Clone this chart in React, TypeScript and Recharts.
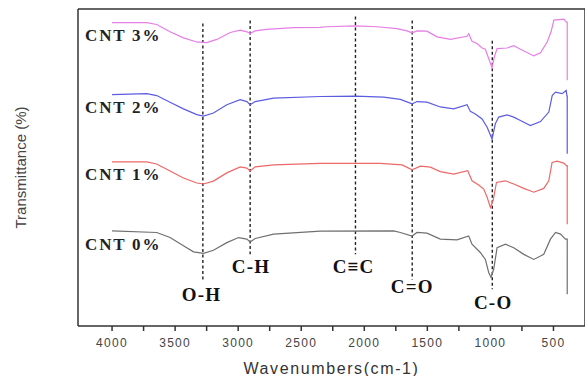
import {
  LineChart,
  Line,
  XAxis,
  YAxis,
  ReferenceLine,
  ReferenceDot,
} from "recharts"

// [wavenumber (cm-1), transmittance with offset]
const cnt3: [number, number][] = [
  [4000, 95.7], [3725, 95.7], [3646, 95.1], [3540, 92.8], [3434, 90.9], [3328, 89.6],
  [3249, 89.4], [3169, 90.4], [3063, 92.6], [2984, 93.3], [2931, 92.8], [2905, 92.3],
  [2865, 93.1], [2772, 93.6], [2561, 94.1], [2349, 94.2], [2300, 94.4], [2071, 94.7],
  [1899, 94.4], [1740, 93.8], [1661, 93.1], [1621, 92.5], [1582, 93.1], [1503, 93.0],
  [1423, 91.2], [1317, 90.4], [1185, 91.4], [1172, 92.2], [1146, 89.8], [1106, 89.1],
  [1066, 87.7], [1040, 87.3], [1013, 84.3], [987, 81.5], [968, 85.0], [947, 87.5],
  [868, 87.7], [815, 88.4], [762, 87.3], [656, 85.2], [603, 86.2], [550, 89.6],
  [519, 92.8], [497, 96.5], [418, 96.8], [399, 95.9], [391, 95.9], [391, 77.5],
]

const cnt2: [number, number][] = [
  [4000, 73.0], [3725, 73.3], [3646, 72.7], [3540, 70.6], [3434, 68.5], [3328, 66.7],
  [3275, 66.2], [3196, 67.2], [3090, 69.8], [2984, 71.4], [2931, 70.8], [2905, 69.8],
  [2865, 70.8], [2719, 71.9], [2349, 72.4], [2071, 72.5], [1846, 72.2], [1714, 71.5],
  [1621, 70.1], [1582, 70.8], [1503, 70.6], [1397, 69.1], [1291, 68.5], [1185, 69.8],
  [1159, 67.7], [1120, 66.9], [1066, 65.3], [1026, 62.7], [987, 59.0], [961, 63.8],
  [934, 65.9], [868, 66.6], [815, 65.9], [762, 64.8], [683, 63.2], [603, 64.5],
  [537, 67.5], [510, 72.7], [484, 73.8], [431, 73.3], [399, 74.3], [393, 72.5],
  [391, 72.5], [391, 54.3],
]

const cnt1: [number, number][] = [
  [4000, 51.8], [3725, 51.8], [3646, 51.1], [3540, 48.9], [3434, 46.7], [3328, 45.1],
  [3275, 44.8], [3196, 45.7], [3090, 48.3], [2984, 50.2], [2931, 49.8], [2905, 48.9],
  [2865, 50.2], [2719, 50.8], [2349, 51.3], [1873, 51.3], [1700, 50.8], [1621, 49.3],
  [1555, 50.4], [1476, 50.1], [1397, 48.7], [1291, 47.9], [1180, 49.0], [1146, 45.8],
  [1093, 44.5], [1053, 43.2], [1026, 40.6], [1000, 37.4], [979, 39.5], [952, 45.3],
  [881, 45.8], [815, 44.8], [735, 43.4], [656, 42.2], [577, 43.4], [537, 45.8],
  [511, 51.6], [471, 52.0], [418, 51.4], [397, 50.6], [391, 50.6], [391, 32.1],
]

const cnt0: [number, number][] = [
  [4000, 30.0], [3646, 29.5], [3540, 27.9], [3434, 25.3], [3354, 23.4], [3275, 22.9],
  [3196, 23.9], [3090, 26.3], [2997, 27.9], [2931, 27.4], [2905, 26.5], [2865, 27.6],
  [2719, 29.0], [2349, 29.9], [1767, 30.0], [1714, 29.5], [1621, 28.4], [1582, 29.5],
  [1503, 29.3], [1397, 27.4], [1265, 27.2], [1172, 28.4], [1146, 25.8], [1080, 23.2],
  [1040, 21.0], [1013, 16.8], [995, 15.3], [974, 17.9], [947, 24.7], [881, 25.8],
  [815, 24.7], [735, 22.6], [656, 21.0], [577, 22.6], [524, 27.4], [484, 29.5],
  [444, 29.0], [405, 27.4], [391, 27.4], [391, 10.0],
]

const seriesNames = ["CNT 3%", "CNT 2%", "CNT 1%", "CNT 0%"]
const seriesColors = ["#e67ee6", "#5c5ce0", "#ee6868", "#707070"]
const seriesData = [cnt3, cnt2, cnt1, cnt0]
// where each name sits: [wavenumber, level]
const nameAnchors: [number, number][] = [[4214, 91.6], [4214, 68.8], [4214, 47.9], [4214, 25.8]]

// bands: [label, wavenumber, line top, line bottom, label level, label wavenumber]
const bands: [string, number, number, number, number, number][] = [
  ["O-H", 3280, 95.4, 14.7, 10.0, 3290],
  ["C-H", 2905, 96.4, 22.6, 18.8, 2898],
  ["C\u2261C", 2070, 97.6, 22.6, 18.8, 2085],
  ["C=O", 1620, 96.4, 14.7, 12.5, 1619],
  ["C-O", 985, 90.0, 11.6, 7.4, 978],
]

const xTicks = [4000, 3750, 3500, 3250, 3000, 2750, 2500, 2250, 2000, 1750, 1500, 1250, 1000, 750, 500]
const yTicks = [10, 20, 30, 40, 50, 60, 70, 80, 90]
const topTicks = [1, 2, 3, 4, 5, 6, 7, 8, 9]

const toPts = (arr: [number, number][]) => arr.map(([wn, t]) => ({ wn, t }))

const axisColor = "#333"
const sans = "'Liberation Sans', Arial, sans-serif"
const serif = "'Liberation Serif', 'Times New Roman', serif"

export default function App() {
  return (
    <div style={{ position: "absolute", left: 0, top: 0, background: "#fff" }}>
      <LineChart width={585} height={376} margin={{ top: 9, right: 0, bottom: 20, left: 0 }}>
        <XAxis
          dataKey="wn"
          type="number"
          domain={[250, 4270]}
          reversed
          allowDataOverflow
          ticks={xTicks}
          interval={0}
          tickFormatter={(v: number) => (v % 500 === 0 ? String(v) : "")}
          tickSize={5}
          tickMargin={7}
          height={30}
          stroke={axisColor}
          strokeWidth={1.5}
          tick={{ fill: "#444", fontSize: 12, fontFamily: sans, letterSpacing: 1.3 }}
          label={{
            content: ({ viewBox }: any) => (
              <text
                x={viewBox.x + viewBox.width / 2}
                y={viewBox.y + viewBox.height + 12}
                textAnchor="middle"
                dominantBaseline="central"
                fill="#333"
                fontSize={16}
                fontFamily={sans}
                letterSpacing={1.6}
              >
                Wavenumbers(cm-1)
              </text>
            ),
          }}
        />
        <XAxis
          xAxisId="top"
          orientation="top"
          type="number"
          domain={[0, 10]}
          allowDataOverflow
          ticks={topTicks}
          tick={false}
          mirror
          tickSize={4}
          height={1}
          stroke={axisColor}
          strokeWidth={1.5}
        />
        <YAxis
          type="number"
          domain={[0, 100]}
          allowDataOverflow
          ticks={yTicks}
          tick={false}
          tickSize={4}
          width={78}
          stroke={axisColor}
          strokeWidth={1.5}
          label={{
            content: ({ viewBox }: any) => (
              <text
                transform={`translate(20, ${viewBox.y + viewBox.height / 2}) rotate(-90)`}
                textAnchor="middle"
                dominantBaseline="central"
                fill="#444"
                fontSize={15}
                fontFamily={sans}
              >
                Transmittance (%)
              </text>
            ),
          }}
        />
        <YAxis
          yAxisId="right"
          orientation="right"
          type="number"
          domain={[0, 100]}
          allowDataOverflow
          ticks={yTicks}
          tick={false}
          mirror
          tickSize={4}
          width={1}
          stroke={axisColor}
          strokeWidth={1.5}
        />

        {bands.map(([name, wn, top, bottom]) => (
          <ReferenceLine
            key={`line-${name}`}
            segment={[{ x: wn, y: top }, { x: wn, y: bottom }]}
            stroke="#222"
            strokeWidth={1.4}
            strokeDasharray="3 2.5"
          />
        ))}

        {seriesData.map((arr, i) => (
          <Line
            key={seriesNames[i]}
            data={toPts(arr)}
            dataKey="t"
            type="linear"
            stroke={seriesColors[i]}
            strokeWidth={1.2}
            dot={false}
            activeDot={false}
            isAnimationActive={false}
          />
        ))}

        {seriesNames.map((name, i) => (
          <ReferenceDot
            key={`name-${name}`}
            x={nameAnchors[i][0]}
            y={nameAnchors[i][1]}
            r={0}
            shape={(p: any) => (
              <text
                x={p.cx}
                y={p.cy}
                textAnchor="start"
                dominantBaseline="central"
                fill="#222"
                fontSize={17}
                fontWeight="bold"
                fontFamily={serif}
                letterSpacing={1.8}
              >
                {name}
              </text>
            )}
          />
        ))}

        {bands.map(([name, , , , level, labelWn]) => (
          <ReferenceDot
            key={`label-${name}`}
            x={labelWn}
            y={level}
            r={0}
            shape={(p: any) => (
              <text
                x={p.cx}
                y={p.cy}
                textAnchor="middle"
                dominantBaseline="central"
                fill="#111"
                fontSize={19}
                fontWeight="bold"
                fontFamily={serif}
                letterSpacing={1.2}
              >
                {name}
              </text>
            )}
          />
        ))}
      </LineChart>
    </div>
  )
}
